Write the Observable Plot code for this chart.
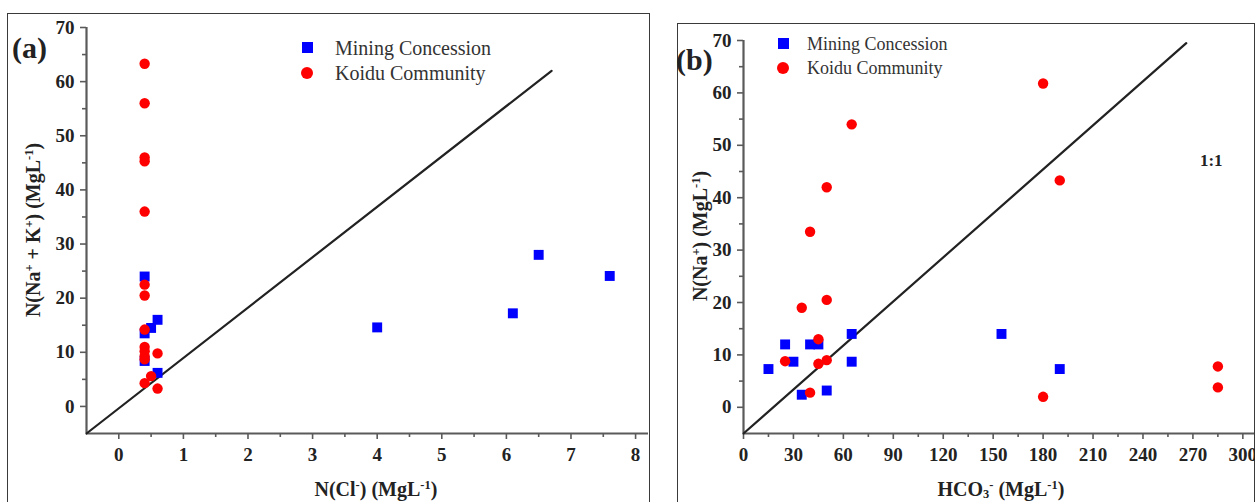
<!DOCTYPE html>
<html>
<head>
<meta charset="utf-8">
<script src="https://cdn.jsdelivr.net/npm/d3@7"></script>
<script src="https://cdn.jsdelivr.net/npm/@observablehq/plot@0.6"></script>
<style>
  body { margin: 0; background: #fff; }
  #wrap { position: relative; width: 1255px; height: 502px; overflow: hidden; background: #fff;
          font-family: "Liberation Serif", "Times New Roman", serif; }
  .frame { position: absolute; border: 1.5px solid #3a3a3a; border-bottom: none; box-sizing: border-box; }
  .abs { position: absolute; white-space: nowrap; }
  .panel { font-weight: bold; font-size: 30px; color: #222; line-height: 1; }
  .leg { font-size: 20px; color: #333; line-height: 1; }
  .axl { font-weight: bold; font-size: 20px; color: #222; line-height: 1; }
  .axl sup { font-size: 0.62em; vertical-align: 0.55em; line-height: 0; }
  .axl sub { font-size: 0.62em; vertical-align: -0.15em; line-height: 0; }
  .sq { position: absolute; width: 11px; height: 11px; background: #0000ff; }
  .ci { position: absolute; width: 12px; height: 12px; border-radius: 50%; background: #ff0000; }
  svg { position: absolute; top: 0; overflow: visible; }
  svg text { font-weight: bold !important; }
  svg g[aria-label$="tick label"] text { font-size: 19px !important; font-family: "Liberation Serif", "Times New Roman", serif !important; }
</style>
</head>
<body>
<div id="wrap"></div>
<script>
// ---------- Data ----------
// Panel (a): N(Cl-) vs N(Na+ + K+)
const clMining   = [0.4, 0.4, 0.4, 0.5, 0.6, 0.6, 4.0, 6.1, 6.5, 7.6];
const naKMining  = [24.0, 13.5, 8.4, 14.5, 16.0, 6.2, 14.6, 17.2, 28.0, 24.1];
const clKoidu    = [0.4, 0.4, 0.4, 0.4, 0.4, 0.4, 0.4, 0.4, 0.4, 0.4, 0.4, 0.4, 0.4, 0.5, 0.6, 0.6];
const naKKoidu   = [63.3, 56.0, 46.0, 45.3, 36.0, 22.5, 20.5, 14.2, 11.0, 10.2, 9.3, 8.7, 4.3, 5.6, 9.8, 3.3];
const lineA      = [{x: -0.5, y: -5}, {x: 6.7, y: 62}];
const xTicksA    = [0, 1, 2, 3, 4, 5, 6, 7, 8];
const xMinorA    = [0.5, 1.5, 2.5, 3.5, 4.5, 5.5, 6.5, 7.5];
const yTicks     = [0, 10, 20, 30, 40, 50, 60, 70];
const yMinor     = [5, 15, 25, 35, 45, 55, 65];

// Panel (b): HCO3- vs N(Na+)
const hco3Mining = [15, 25, 30, 35, 40, 45, 50, 65, 65, 155, 190];
const naMining   = [7.3, 12.0, 8.7, 2.4, 12.0, 12.0, 3.2, 14.0, 8.7, 14.0, 7.3];
const hco3Koidu  = [25, 35, 40, 40, 45, 45, 50, 50, 50, 65, 180, 190, 180, 285, 285];
const naKoidu    = [8.8, 19.0, 2.8, 33.5, 13.0, 8.3, 20.5, 9.0, 42.0, 54.0, 61.8, 43.3, 2.0, 7.8, 3.8];
const lineB      = [{x: 0, y: -5}, {x: 266, y: 69.5}];
const labelB     = [{x: 281, y: 47, text: "1:1"}];
const xTicksB    = [0, 30, 60, 90, 120, 150, 180, 210, 240, 270, 300];
const xMinorB    = [15, 45, 75, 105, 135, 165, 195, 225, 255, 285];

const seriesNames = ["Mining Concession", "Koidu Community"];

const zip = (xs, ys) => xs.map((x, i) => ({x, y: ys[i]}));

const axisStroke = "#5a5a5a";
const styleObj = {fontFamily: '"Liberation Serif", "Times New Roman", serif', fontSize: "18px",
                  fontWeight: "bold", color: "#222", background: "transparent", overflow: "visible"};

function makePanel({width, ml, mt, mr, xDomain, xTicks, xMinor, mining, koidu, line, extra = []}) {
  return Plot.plot({
    width, height: 502,
    marginLeft: ml, marginTop: mt, marginBottom: 69, marginRight: mr,
    x: {domain: xDomain},
    y: {domain: [-5, 70]},
    style: styleObj,
    marks: [
      Plot.ruleX([xDomain[0]], {stroke: axisStroke, strokeWidth: 2.2}),
      Plot.ruleY([-5], {stroke: axisStroke, strokeWidth: 2.2}),
      Plot.axisX({ticks: xTicks, tickSize: 6, tickPadding: 8, label: null, stroke: axisStroke, strokeWidth: 1.6,
                  fill: "#222", fontWeight: "bold"}),
      Plot.axisX({ticks: xMinor, tickSize: 4, tickFormat: () => "", label: null, stroke: axisStroke, strokeWidth: 1.6}),
      Plot.axisY({ticks: yTicks, tickSize: 6, tickPadding: 6, label: null, stroke: axisStroke, strokeWidth: 1.6,
                  fill: "#222", fontWeight: "bold"}),
      Plot.axisY({ticks: yMinor, tickSize: 4, tickFormat: () => "", label: null, stroke: axisStroke, strokeWidth: 1.6}),
      Plot.line(line, {x: "x", y: "y", stroke: "#222", strokeWidth: 2.2}),
      Plot.dot(mining, {x: "x", y: "y", symbol: "square", r: 5.6, fill: "#0000ff", stroke: "none"}),
      Plot.dot(koidu, {x: "x", y: "y", symbol: "circle", r: 5.2, fill: "#ff0000", stroke: "none"}),
      ...extra
    ]
  });
}

const wrap = document.getElementById("wrap");

// Frames
wrap.insertAdjacentHTML("beforeend", `
  <div class="frame" style="left:7px;top:13px;width:643px;height:520px;"></div>
  <div class="frame" style="left:677px;top:23px;width:578px;height:520px;"></div>
`);

const plotA = makePanel({
  width: 650, ml: 86, mt: 27, mr: 2, xDomain: [-0.5, 8.2], xTicks: xTicksA, xMinor: xMinorA,
  mining: zip(clMining, naKMining), koidu: zip(clKoidu, naKKoidu), line: lineA
});
plotA.style.left = "0px";
wrap.appendChild(plotA);

const plotB = makePanel({
  width: 578, ml: 66, mt: 40, mr: 1, xDomain: [0, 307], xTicks: xTicksB, xMinor: xMinorB,
  mining: zip(hco3Mining, naMining), koidu: zip(hco3Koidu, naKoidu), line: lineB,
  extra: [Plot.text(labelB, {x: "x", y: "y", text: "text", fontSize: 17, fontWeight: "bold", fill: "#222"})]
});
plotB.style.left = "677px";
wrap.appendChild(plotB);

// Text overlays: panel letters, legends, axis titles
wrap.insertAdjacentHTML("beforeend", `
  <div class="abs panel" style="left:12px;top:33px;">(a)</div>
  <div class="abs panel" style="left:676px;top:45px;">(b)</div>

  <div class="sq" style="left:302px;top:42px;"></div>
  <div class="abs leg" style="left:335px;top:38px;">${seriesNames[0]}</div>
  <div class="ci" style="left:301px;top:67px;"></div>
  <div class="abs leg" style="left:335px;top:63px;">${seriesNames[1]}</div>

  <div class="sq" style="left:778px;top:38px;"></div>
  <div class="abs leg" style="left:807px;top:35px;font-size:18px;">${seriesNames[0]}</div>
  <div class="ci" style="left:777px;top:62px;"></div>
  <div class="abs leg" style="left:807px;top:59px;font-size:18px;">${seriesNames[1]}</div>

  <div class="abs axl" id="xa" style="top:479px;">N(Cl<sup>-</sup>) (MgL<sup>-1</sup>)</div>
  <div class="abs axl" id="xb" style="top:479px;">HCO<sub>3</sub><sup>-</sup> (MgL<sup>-1</sup>)</div>
  <div class="abs axl" id="ya">N(Na<sup>+</sup> + K<sup>+</sup>) (MgL<sup>-1</sup>)</div>
  <div class="abs axl" id="yb">N(Na<sup>+</sup>) (MgL<sup>-1</sup>)</div>
`);

function centerH(id, cx) {
  const el = document.getElementById(id);
  el.style.left = (cx - el.offsetWidth / 2) + "px";
}
function centerV(id, cx, cy) {
  const el = document.getElementById(id);
  const w = el.offsetWidth, h = el.offsetHeight;
  el.style.left = (cx - w / 2) + "px";
  el.style.top = (cy - h / 2) + "px";
  el.style.transform = "rotate(-90deg)";
}
centerH("xa", 376);
centerH("xb", 1001);
centerV("ya", 33, 230);
centerV("yb", 700, 236);
</script>
</body>
</html>
